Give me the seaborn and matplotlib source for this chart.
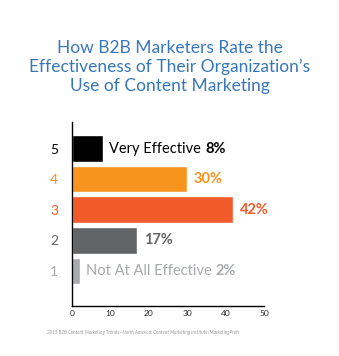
import matplotlib
matplotlib.use("Agg")
import matplotlib.pyplot as plt
import seaborn as sns
import pandas as pd

ratings = ["5", "4", "3", "2", "1"]
values = [8, 30, 42, 17, 2]
names = ["Very Effective", "", "", "", "Not At All Effective"]
colors = ["#000000", "#f7941d", "#f15a29", "#636466", "#a7a9ac"]
xticks = [0, 10, 20, 30, 40, 50]

sns.set_theme(style="white")
plt.rcParams["font.family"] = ["Lato", "DejaVu Sans"]

df = pd.DataFrame({"rating": ratings, "value": values})

fig = plt.figure(figsize=(3.39, 3.56), dpi=100)
ax = fig.add_axes([0.2124, 0.1413, 0.5664, 0.516])
sns.barplot(data=df, x="value", y="rating", hue="rating", palette=colors,
            order=ratings, hue_order=ratings, orient="h", width=0.87,
            legend=False, ax=ax, saturation=1)

ax.set_xlim(0, 50)
ax.set_ylim(5.134, -0.866)
ax.set_xticks(xticks)
ax.set_xticklabels([str(t) for t in xticks], fontsize=6)
ax.tick_params(axis="x", direction="in", length=4, width=1, color="black", pad=3)
ax.tick_params(axis="y", length=0, pad=10, labelsize=10)
for lbl, c in zip(ax.get_yticklabels(), colors):
    lbl.set_color(c)
ax.set_xlabel("")
ax.set_ylabel("")
for s in ["top", "right"]:
    ax.spines[s].set_visible(False)
for s in ["left", "bottom"]:
    ax.spines[s].set_color("black")
    ax.spines[s].set_linewidth(1)

for i, (v, n, c) in enumerate(zip(values, names, colors)):
    x0 = v + 1.7
    if n:
        t = ax.text(x0, i, n + " ", va="center", ha="left", fontsize=10.5, color=c)
        fig.canvas.draw()
        bb = t.get_window_extent().transformed(ax.transData.inverted())
        x0 = bb.x1
    ax.text(x0, i, f"{v}%", va="center", ha="left", fontsize=10.5,
            color=c, fontweight="bold")

fig.text(0.5, 0.812, "How B2B Marketers Rate the\nEffectiveness of Their Organization\u2019s\nUse of Content Marketing",
         ha="center", va="center", fontsize=12.5, color="#3677bb", linespacing=1.2)
fig.text(0.14, 0.067,
         "2015 B2B Content Marketing Trends\u2014North America: Content Marketing Institute/MarketingProfs",
         ha="left", va="center", fontsize=3.3, color="#999999", style="italic")

fig.savefig("out.png", dpi=100)
